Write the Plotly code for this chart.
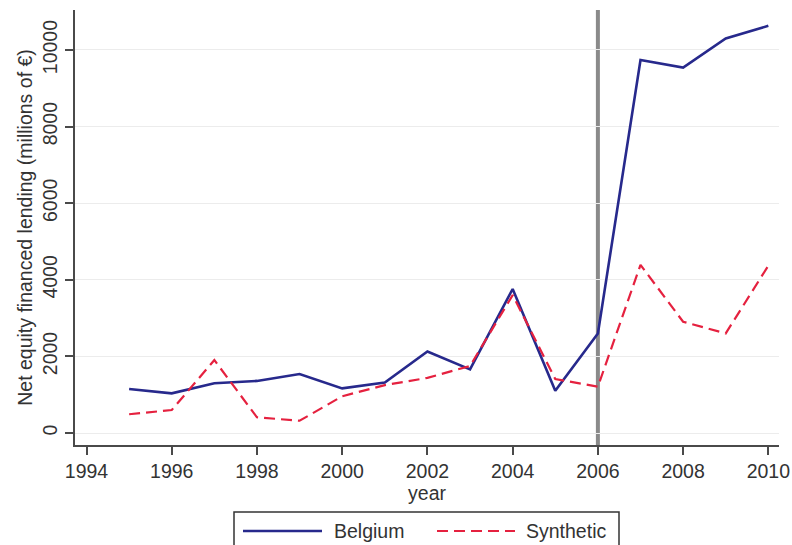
import plotly.graph_objects as go

# Net equity financed lending, Belgium vs synthetic control (millions of EUR)
years = list(range(1995, 2011))
belgium = [1150, 1035, 1300, 1360, 1540, 1165, 1320, 2130, 1660, 3760,
           1105, 2600, 9740, 9540, 10300, 10630]
synthetic = [490, 600, 1905, 410, 320, 960, 1250, 1440, 1750, 3600,
             1410, 1210, 4390, 2905, 2600, 4370]
treatment_year = 2006
x_ticks = list(range(1994, 2011, 2))
y_ticks = list(range(0, 10001, 2000))
series_names = ["Belgium", "Synthetic"]

BLUE = "#27298c"
RED = "#e5213f"
TEXT = "#333333"
FONT = "Liberation Sans, Arial, sans-serif"
FS = 19.5

W, H = 792, 545
ML, MR, MT, MB = 75, 13, 10, 100
PW, PH = W - ML - MR, H - MT - MB


def px_x(px):
    return (px - ML) / PW


def px_y(py):
    return (H - MB - py) / PH


fig = go.Figure()
fig.add_trace(go.Scatter(x=years, y=belgium, mode="lines", name=series_names[0],
                         line=dict(color=BLUE, width=2.6), showlegend=False))
fig.add_trace(go.Scatter(x=years, y=synthetic, mode="lines", name=series_names[1],
                         line=dict(color=RED, width=2.2, dash="11px,6px"),
                         showlegend=False))

fig.add_vline(x=treatment_year, line=dict(color="#8a8a8a", width=4), layer="below")

# Legend box drawn below the x-axis title
shapes = [
    dict(type="rect", xref="paper", yref="paper",
         x0=px_x(234), x1=px_x(619), y0=px_y(560), y1=px_y(512),
         line=dict(color="#333333", width=1.5), fillcolor="white"),
    dict(type="line", xref="paper", yref="paper",
         x0=px_x(243), x1=px_x(322), y0=px_y(531), y1=px_y(531),
         line=dict(color=BLUE, width=2.6)),
    dict(type="line", xref="paper", yref="paper",
         x0=px_x(437), x1=px_x(515), y0=px_y(531), y1=px_y(531),
         line=dict(color=RED, width=2.2, dash="11px,6px")),
]
for s in shapes:
    fig.add_shape(**s)

annotations = [
    dict(x=px_x(332), y=px_y(531), text=series_names[0]),
    dict(x=px_x(524), y=px_y(531), text=series_names[1]),
]
for a in annotations:
    fig.add_annotation(xref="paper", yref="paper", xanchor="left", yanchor="middle",
                       showarrow=False, font=dict(family=FONT, size=FS, color=TEXT),
                       **a)

fig.update_layout(
    width=W, height=H,
    margin=dict(l=ML, r=MR, t=MT, b=MB, autoexpand=False),
    plot_bgcolor="white", paper_bgcolor="white",
    font=dict(family=FONT, size=FS, color=TEXT),
    showlegend=False,
)
fig.update_xaxes(
    range=[1993.73, 2010.25], tickvals=x_ticks, ticktext=[str(t) for t in x_ticks],
    showgrid=False, zeroline=False, showline=True, linecolor="#4a4a4a", linewidth=1.5,
    ticks="outside", ticklen=8, tickcolor="#4a4a4a", tickwidth=1.5,
    tickfont=dict(size=FS, color=TEXT),
    title=dict(text="year", font=dict(size=FS, color=TEXT), standoff=0),
)
fig.update_yaxes(
    range=[-313, 11044], tickvals=y_ticks, ticktext=[str(t) for t in y_ticks],
    tickangle=-90,
    showgrid=True, gridcolor="#ececec", gridwidth=1, zeroline=False,
    showline=True, linecolor="#4a4a4a", linewidth=1.5,
    ticks="outside", ticklen=8, tickcolor="#4a4a4a", tickwidth=1.5,
    tickfont=dict(size=FS, color=TEXT),
    title=dict(text="Net equity financed lending (millions of €)",
               font=dict(size=FS, color=TEXT), standoff=2),
)

fig.write_html("out.html")
